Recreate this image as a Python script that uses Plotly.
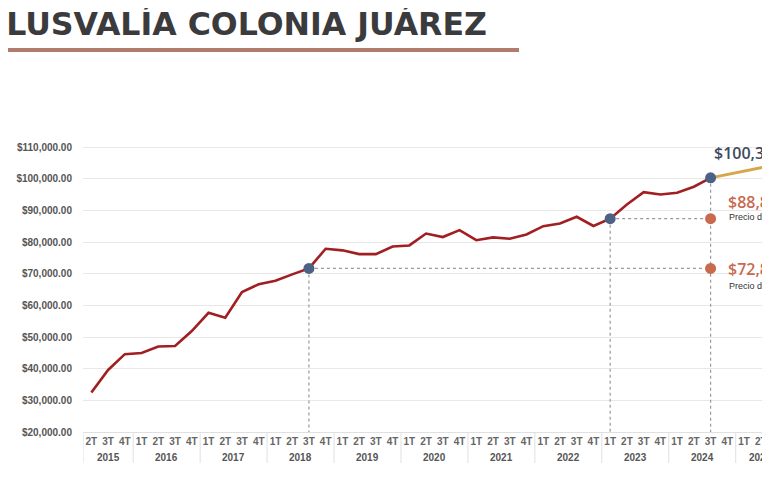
import plotly.graph_objs as go

# quarters on the x axis
years = ['2015'] * 3 + [str(y) for y in range(2016, 2025) for _ in range(4)] + ['2025'] * 3
quarters = ['2T', '3T', '4T'] + ['1T', '2T', '3T', '4T'] * 9 + ['1T', '2T', '3T']
categories = [y + ' ' + q for y, q in zip(years, quarters)]

# historic price per m2 (2015 2T .. 2024 3T)
precio = [32500, 39600, 44600, 44950, 47000, 47150, 51900,
          57650, 56100, 64250, 66700,
          67800, 69800, 71700, 77900,
          77400, 76200, 76200, 78600,
          78950, 82700, 81600, 83800,
          80600, 81500, 81050, 82400,
          85050, 85900, 88000, 85100,
          87400, 91900, 95800, 95050,
          95600, 97500, 100300]

# projection (2024 3T onwards)
proyeccion = [100300, 101400, 102450, 103500, 104550]

# highlighted points
puntos = ['2018 3T', '2023 1T', '2024 3T']
puntos_valor = [71700, 87400, 100300]

etiquetas = ['$100,350', '$88,850', '$72,850']
sub_etiqueta = 'Precio de venta'

TITLE = 'PLUSVALÍA COLONIA JUÁREZ'

RED = '#a11f22'
GOLD = '#d6a64a'
BLUE = '#4b6285'
ORANGE = '#c96a4f'
DOT = '#9a9a9a'
DIV = '#e0e0e0'

n_hist = len(precio)

data = []

# invisible trace first, so every quarter is a category in order
data.append(go.Scatter(
    x=categories, y=[None] * len(categories), mode='lines',
    hoverinfo='skip', showlegend=False))

# dotted guide lines
for c, v in zip(puntos, puntos_valor):
    data.append(go.Scatter(
        x=[c, c], y=[v, 20000], mode='lines',
        line=dict(color=DOT, width=1.2, dash='dot'),
        hoverinfo='skip', showlegend=False))
for c, v in zip(puntos[:2], puntos_valor[:2]):
    data.append(go.Scatter(
        x=[c, puntos[2]], y=[v, v], mode='lines',
        line=dict(color=DOT, width=1.2, dash='dot'),
        hoverinfo='skip', showlegend=False))

data.append(go.Scatter(
    x=categories[n_hist - 1:n_hist - 1 + len(proyeccion)], y=proyeccion,
    mode='lines', line=dict(color=GOLD, width=3), showlegend=False))

data.append(go.Scatter(
    x=categories[:n_hist], y=precio, mode='lines',
    line=dict(color=RED, width=2.6), showlegend=False))

data.append(go.Scatter(
    x=[puntos[2], puntos[2]], y=puntos_valor[:2], mode='markers',
    marker=dict(color=ORANGE, size=11), showlegend=False))

data.append(go.Scatter(
    x=puntos, y=puntos_valor, mode='markers',
    marker=dict(color=BLUE, size=11), showlegend=False))

# the page puts the figure 8px in from the top-left corner
OFF = 8
FIG_W, FIG_H = 770 - OFF, 483 - OFF
L, B, W, H = 83 - OFF, 51, 687, 288


def px(x):
    # x in window pixels -> paper
    return (x - OFF - L) / W


def py(y):
    # y in window pixels -> paper
    return (FIG_H - B - (y - OFF)) / H


annotations = [
    dict(text=TITLE, x=px(489), y=py(23.5), xanchor='right', yanchor='middle',
         font=dict(family='DejaVu Sans', size=31.6, color='#3b3b3d', weight='bold')),
    dict(text=etiquetas[0], x=px(712), y=py(153), xanchor='left', yanchor='middle',
         font=dict(family='Open Sans', size=16, color='#3d4a5c', weight=600)),
    dict(text=etiquetas[1], x=px(726), y=py(202), xanchor='left', yanchor='middle',
         font=dict(family='Open Sans', size=16, color=ORANGE, weight=600)),
    dict(text=sub_etiqueta, x=px(727), y=py(217), xanchor='left', yanchor='middle',
         font=dict(family='Liberation Sans', size=9, color='#333333')),
    dict(text=etiquetas[2], x=px(726), y=py(269), xanchor='left', yanchor='middle',
         font=dict(family='Open Sans', size=16, color=ORANGE, weight=600)),
    dict(text=sub_etiqueta, x=px(727), y=py(286), xanchor='left', yanchor='middle',
         font=dict(family='Liberation Sans', size=9, color='#333333')),
]
for a in annotations:
    a.update(xref='paper', yref='paper')

shapes = [
    dict(type='rect', xref='paper', yref='paper',
         x0=px(0), x1=px(519), y0=py(52), y1=py(48),
         fillcolor='#b27c6c', line=dict(width=0)),
]

# year labels and dividers under the quarter labels
grupos = []
for i, y in enumerate(years):
    if not grupos or grupos[-1][0] != y:
        grupos.append([y, i, i])
    else:
        grupos[-1][2] = i
for y, i0, i1 in grupos:
    annotations.append(dict(
        text=y, x=(i0 + i1) / 2, xref='x', y=py(457), yref='paper',
        xanchor='center', yanchor='middle',
        font=dict(family='Liberation Sans', size=10, color='#555555', weight='bold')))
    shapes.append(dict(
        type='line', xref='x', yref='paper', x0=i0 - 0.5, x1=i0 - 0.5,
        y0=0, y1=py(463), line=dict(color=DIV, width=1)))

for a in annotations:
    a['showarrow'] = False

layout = go.Layout(
    template='none',
    width=FIG_W,
    height=FIG_H,
    margin=dict(l=L, r=0, t=FIG_H - B - H, b=B, pad=0),
    paper_bgcolor='white',
    plot_bgcolor='white',
    showlegend=False,
    font=dict(family='Liberation Sans', color='#555555'),
    xaxis=dict(
        type='category',
        range=[-0.5, 40.55],
        automargin=False,
        showgrid=False,
        showline=True,
        linecolor=DIV,
        linewidth=1,
        ticks='',
        tickangle=0,
        tickmode='array',
        tickvals=categories,
        ticktext=quarters,
        tickfont=dict(size=10, color='#666666', weight='bold'),
        zeroline=False,
    ),
    yaxis=dict(
        range=[20000, 111000],
        automargin=False,
        tickvals=list(range(20000, 110001, 10000)),
        tickformat='$,.2f',
        tickfont=dict(size=10, color='#555555', weight='bold'),
        ticks='',
        ticklabelstandoff=10,
        showgrid=True,
        gridcolor='#e8e8e8',
        gridwidth=1,
        showline=False,
        zeroline=False,
    ),
    annotations=annotations,
    shapes=shapes,
)

fig = go.Figure(data=data, layout=layout)
fig.write_html("out.html")
